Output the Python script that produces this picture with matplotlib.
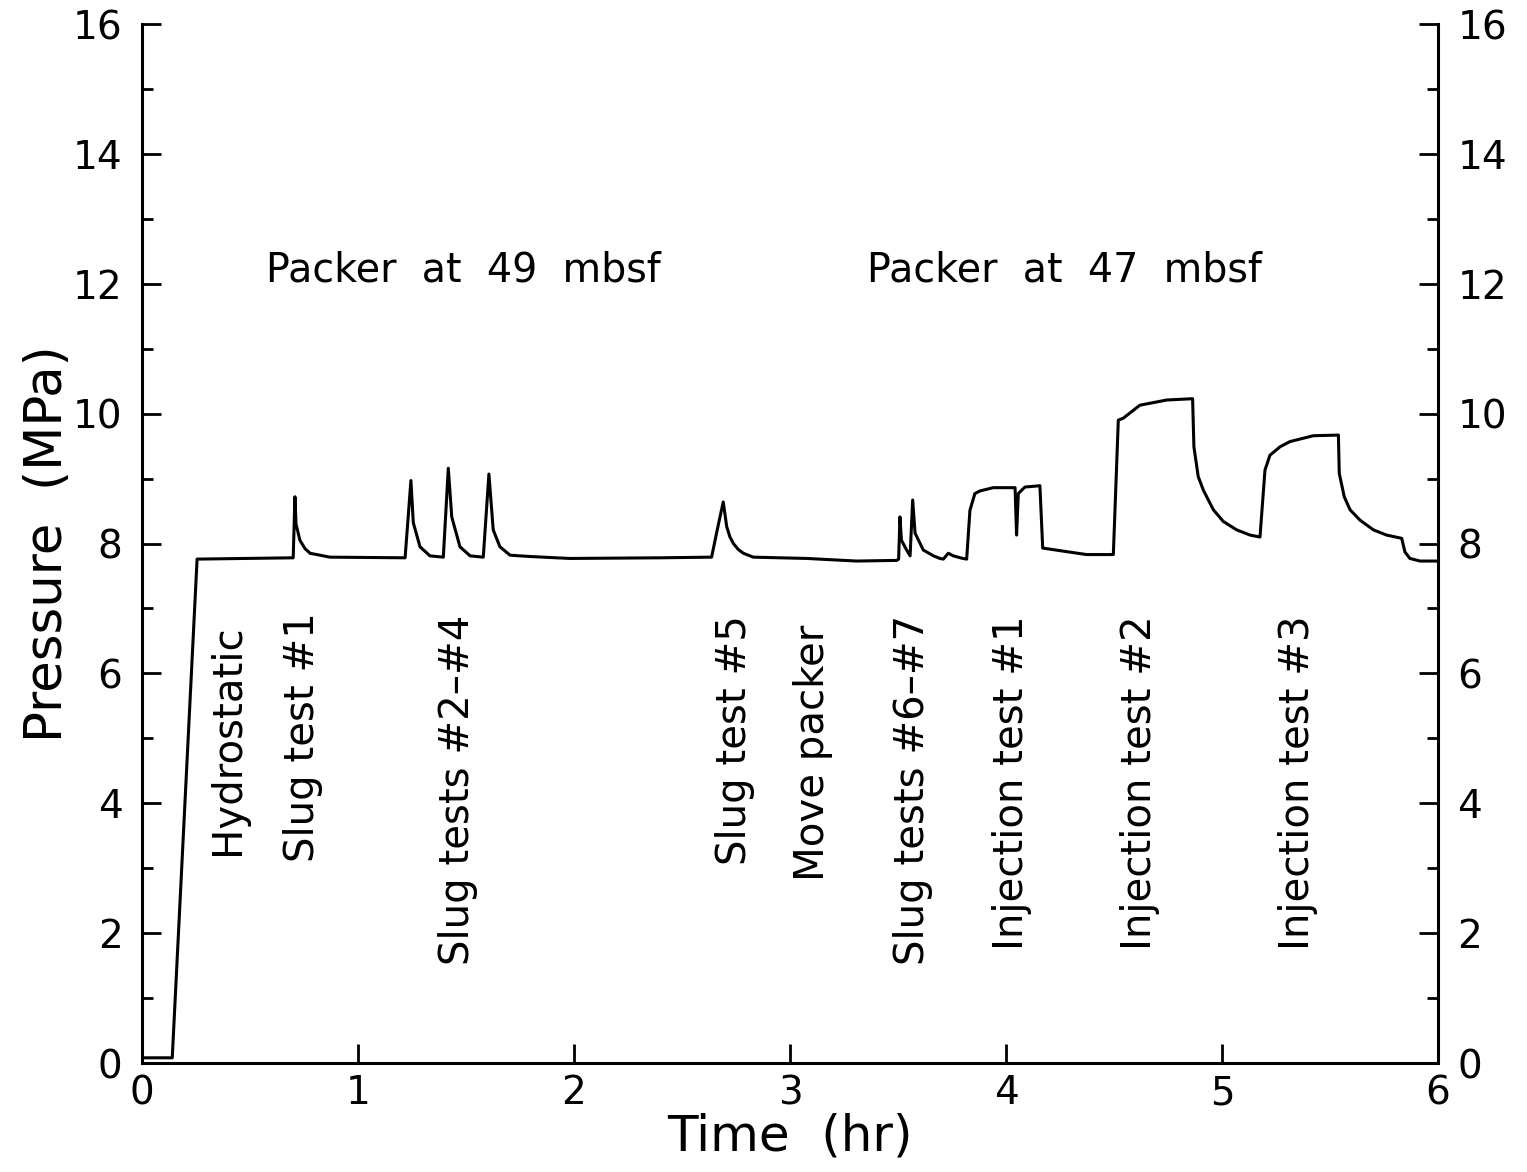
import matplotlib
matplotlib.use("Agg")
import matplotlib.pyplot as plt
from matplotlib.ticker import MultipleLocator

# Time (hr) and pressure (MPa)
time_hr = [0.0, 0.14, 0.255, 0.70, 0.708, 0.713, 0.731, 0.755, 0.778, 0.87,
           1.218, 1.245, 1.256, 1.287, 1.333, 1.395, 1.418, 1.434, 1.472, 1.519,
           1.580, 1.606, 1.626, 1.657, 1.704, 1.796, 1.98, 2.40, 2.637, 2.66,
           2.676, 2.691, 2.707, 2.722, 2.738, 2.760, 2.784, 2.830, 3.077, 3.309,
           3.494, 3.503, 3.509, 3.516, 3.54, 3.556, 3.568, 3.579, 3.617, 3.664,
           3.694, 3.710, 3.733, 3.756, 3.80, 3.818, 3.833, 3.856, 3.880, 3.941,
           4.042, 4.049, 4.057, 4.088, 4.157, 4.170, 4.25, 4.373, 4.497, 4.520,
           4.543, 4.62, 4.744, 4.864, 4.870, 4.890, 4.914, 4.960, 5.006, 5.068,
           5.130, 5.176, 5.199, 5.222, 5.269, 5.315, 5.423, 5.539, 5.543, 5.566,
           5.593, 5.639, 5.701, 5.762, 5.832, 5.847, 5.870, 5.917, 6.0]
pressure_mpa = [0.08, 0.08, 7.76, 7.78, 8.72, 8.30, 8.05, 7.92, 7.85, 7.79,
                7.78, 8.97, 8.32, 7.95, 7.81, 7.79, 9.16, 8.41, 7.95, 7.81,
                7.79, 9.07, 8.21, 7.95, 7.82, 7.80, 7.77, 7.78, 7.79, 8.16,
                8.41, 8.64, 8.26, 8.10, 8.00, 7.91, 7.85, 7.79, 7.77, 7.73,
                7.74, 7.76, 8.41, 8.05, 7.90, 7.81, 8.67, 8.16, 7.90, 7.81,
                7.77, 7.76, 7.85, 7.81, 7.77, 7.76, 8.51, 8.77, 8.81, 8.86,
                8.86, 8.13, 8.77, 8.87, 8.89, 7.93, 7.89, 7.83, 7.83, 9.90,
                9.93, 10.13, 10.21, 10.23, 9.49, 9.03, 8.82, 8.52, 8.34, 8.21,
                8.13, 8.10, 9.13, 9.36, 9.49, 9.57, 9.66, 9.67, 9.08, 8.72,
                8.52, 8.36, 8.21, 8.13, 8.08, 7.87, 7.77, 7.73, 7.73]

# Vertical event labels and their time positions
event_labels = ["Hydrostatic", "Slug test #1", "Slug tests #2\u2013#4", "Slug test #5",
                "Move packer", "Slug tests #6\u2013#7", "Injection test #1",
                "Injection test #2", "Injection test #3"]
event_times = [0.398, 0.745, 1.463, 2.745, 3.106, 3.569, 4.028, 4.62, 5.35]
event_tops = [6.75, 6.95, 6.9, 6.9, 6.75, 6.9, 6.9, 6.9, 6.9]

packer_labels = ["Packer  at  49  mbsf", "Packer  at  47  mbsf"]
packer_times = [1.486, 4.27]
packer_y = 12.2

x_ticks = [0, 1, 2, 3, 4, 5, 6]
y_ticks = [0, 2, 4, 6, 8, 10, 12, 14, 16]

plt.rcParams['font.family'] = ['DejaVu Sans']

fig = plt.figure(figsize=(15.27, 11.72), dpi=100)
ax = fig.add_axes([0.093, 0.093, 0.8487, 0.8865])

ax.plot(time_hr, pressure_mpa, color='black', lw=2.2, solid_joinstyle='round')

ax.set_xlim(0, 6)
ax.set_ylim(0, 16)
ax.set_xticks(x_ticks)
ax.set_yticks(y_ticks)
ax.yaxis.set_minor_locator(MultipleLocator(1))

ax.spines['top'].set_visible(False)
for s in ['left', 'right', 'bottom']:
    ax.spines[s].set_linewidth(2.2)

ax.tick_params(axis='y', which='both', direction='in', left=True, right=True,
               labelleft=True, labelright=True, width=2.0, labelsize=28, pad=14)
ax.tick_params(axis='y', which='major', length=14)
ax.tick_params(axis='y', which='minor', length=8)
ax.tick_params(axis='x', which='major', direction='in', length=14, width=2.0,
               labelsize=28, pad=8)

ax.set_xlabel("Time  (hr)", fontsize=36, labelpad=0)
ax.set_ylabel("Pressure  (MPa)", fontsize=37, labelpad=0)

for lab, t, top in zip(event_labels, event_times, event_tops):
    ax.text(t, top, lab, rotation=90, ha='center', va='top', fontsize=29)

for lab, t in zip(packer_labels, packer_times):
    ax.text(t, packer_y, lab, ha='center', va='center', fontsize=28.5)

fig.savefig("out.png", dpi=100)
